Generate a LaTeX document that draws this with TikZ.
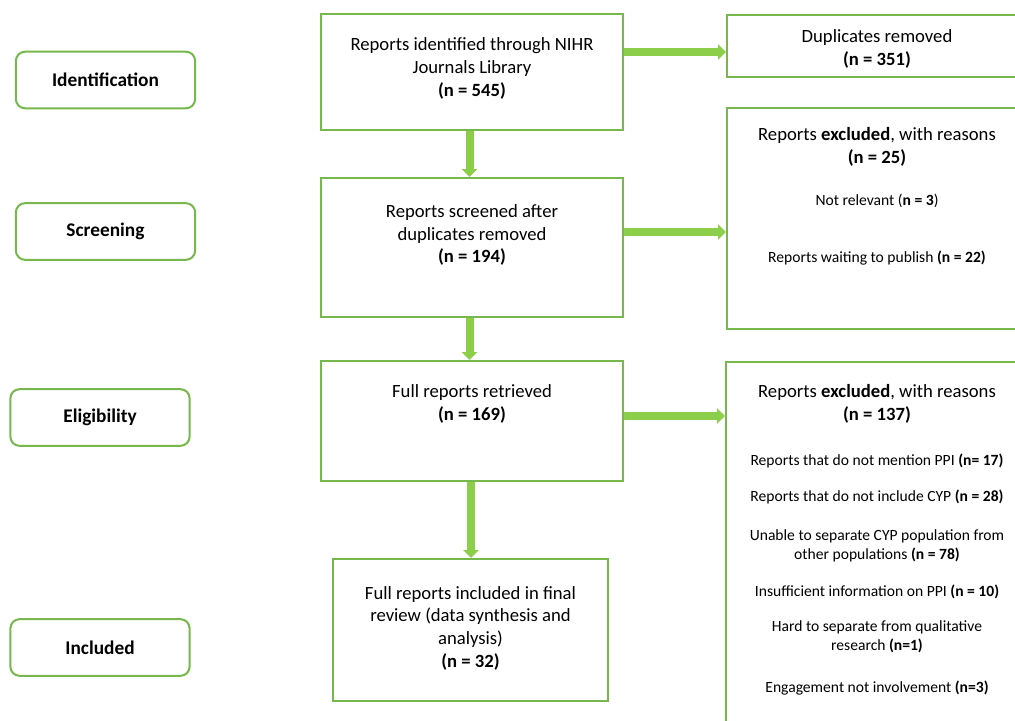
\documentclass[tikz,border=0pt]{standalone}
\usepackage{fontspec}
\setmainfont{Carlito}
\usetikzlibrary{arrows.meta}
\definecolor{boxgreen}{RGB}{118,184,76}
\definecolor{arrowgreen}{RGB}{140,206,74}
\tikzset{
  stage/.style={draw=boxgreen, line width=1.5pt, rounded corners=7pt, inner sep=0pt,
    minimum width=134.5pt, minimum height=42.5pt, font=\bfseries\fontsize{14.5}{17}\selectfont},
  flowbox/.style={draw=boxgreen, line width=1.5pt, inner sep=0pt},
  txt/.style={align=center, inner sep=0pt, font=\fontsize{14}{17}\selectfont},
  item/.style={align=center, inner sep=0pt, font=\fontsize{11.7}{14}\selectfont},
  flow/.style={draw=arrowgreen, line width=6pt, -{Triangle[width=11.5pt,length=6pt]}},
}
\begin{document}
\begin{tikzpicture}[x=0.75pt,y=-0.75pt]
\useasboundingbox (0,0) rectangle (1015,721);
\clip (0,0) rectangle (1015,721);
\fill[white] (0,0) rectangle (1015,721);

% stage labels
\node[stage] (id)  at (105.5,80)  {Identification};
\node[stage] (scr) at (105.5,231.5) {Screening};
\node[stage] (eli) at (100,417.5) {Eligibility};
\node[stage] (inc) at (100,647.5) {Included};

% main flow boxes
\node[flowbox, minimum width=226.5pt, minimum height=87pt]   (b1) at (472,72) {};
\node[flowbox, minimum width=226.5pt, minimum height=104.25pt] (b2) at (472,247.5) {};
\node[flowbox, minimum width=226.5pt, minimum height=90pt]   (b3) at (472,421) {};
\node[flowbox, minimum width=206.25pt, minimum height=106.5pt] (b4) at (470.5,630) {};

% right boxes (cut by the right edge)
\node[flowbox, minimum width=227.25pt, minimum height=46.5pt]  (dup) at (878.5,46) {};
\node[flowbox, minimum width=227.25pt, minimum height=165.75pt] (ex1) at (878.5,218.5) {};
\node[flowbox, minimum width=228pt, minimum height=285pt]     (ex2) at (878,552) {};

% texts of main boxes
\node[txt] (t1) at (472,68.5) {Reports identified through NIHR\\Journals Library\\\textbf{(n = 545)}};
\node[txt] (t2) at (472,235) {Reports screened after\\duplicates removed\\\textbf{(n = 194)}};
\node[txt] (t3) at (472,404) {Full reports retrieved\\\textbf{(n = 169)}};
\node[txt] (t4) at (470.5,628) {Full reports included in final\\review (data synthesis and\\analysis)\\\textbf{(n = 32)}};

% texts of right boxes
\node[txt] (td) at (877,49) {Duplicates removed\\\textbf{(n = 351)}};
\node[txt] (te1) at (877,147) {Reports \textbf{excluded}, with reasons\\\textbf{(n = 25)}};
\node[item] (r1) at (877,201) {Not relevant (\textbf{n = 3})};
\node[item] (r2) at (877,258) {Reports waiting to publish \textbf{(n = 22)}};

\node[txt] (te2) at (877,404) {Reports \textbf{excluded}, with reasons\\\textbf{(n = 137)}};
\node[item] (s1) at (877,461) {Reports that do not mention PPI \textbf{(n= 17)}};
\node[item] (s2) at (877,497) {Reports that do not include CYP \textbf{(n = 28)}};
\node[item] (s3) at (877,546) {Unable to separate CYP population from\\other populations \textbf{(n = 78)}};
\node[item] (s4) at (877,592) {Insufficient information on PPI \textbf{(n = 10)}};
\node[item] (s5) at (877,637) {Hard to separate from qualitative\\research \textbf{(n=1)}};
\node[item] (s6) at (877,688) {Engagement not involvement \textbf{(n=3)}};

% connectors
\draw[flow] (b1.south -| 469.5,0) -- (b2.north -| 469.5,0);
\draw[flow] (b2.south -| 469.5,0) -- (b3.north -| 469.5,0);
\draw[flow] (b3.south -| 471,0) -- (b4.north -| 471,0);
\draw[flow] (b1.east |- 0,52) -- (dup.west |- 0,52);
\draw[flow] (b2.east |- 0,232) -- (ex1.west |- 0,232);
\draw[flow] (b3.east |- 0,416) -- (ex2.west |- 0,416);
\end{tikzpicture}
\end{document}
